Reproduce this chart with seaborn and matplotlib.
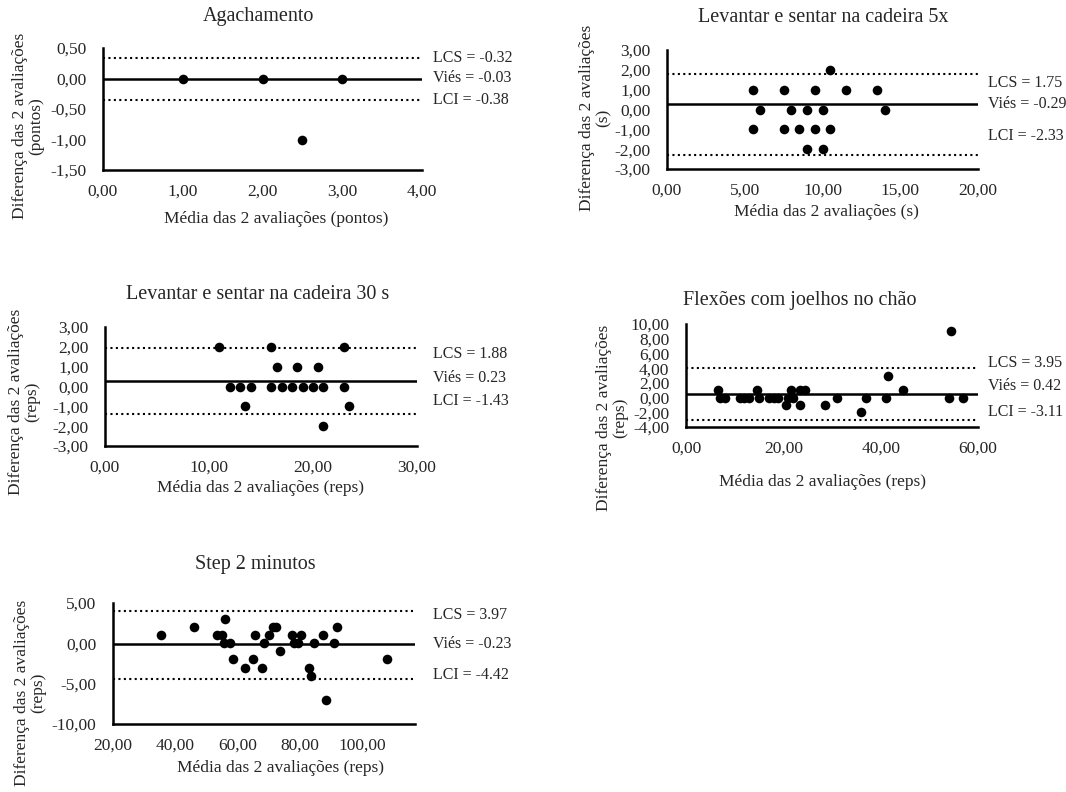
import matplotlib
matplotlib.use("Agg")
import matplotlib.pyplot as plt
from matplotlib.ticker import FuncFormatter, MultipleLocator
import seaborn as sns

sns.set_style("white")
plt.rcParams["font.family"] = ["Liberation Serif", "DejaVu Serif"]
plt.rcParams["text.color"] = "#262626"
plt.rcParams["xtick.color"] = "#262626"
plt.rcParams["ytick.color"] = "#262626"

# --- data ---
agach_x = [1.0, 2.0, 3.0, 2.5]
agach_y = [0, 0, 0, -1]
agach_lines = [0.33, 0.0, -0.36]          # LCS, bias, LCI (as drawn)
agach_text = ["LCS = -0.32", "Viés = -0.03", "LCI = -0.38"]

sent5_x = [10.5, 5.5, 7.5, 9.5, 11.5, 13.5, 6.0, 8.0, 9.0, 10.0, 14.0,
           5.5, 7.5, 8.5, 9.5, 10.5, 9.0, 10.0]
sent5_y = [2, 1, 1, 1, 1, 1, 0, 0, 0, 0, 0, -1, -1, -1, -1, -1, -2, -2]
sent5_lines = [1.8, 0.29, -2.28]
sent5_text = ["LCS = 1.75", "Viés = -0.29", "LCI = -2.33"]

sent30_x = [11, 16, 23, 16.5, 18.5, 20.5, 12, 13, 14, 16, 17, 18, 19, 20,
            21, 23, 13.5, 23.5, 21]
sent30_y = [2, 2, 2, 1, 1, 1, 0, 0, 0, 0, 0, 0, 0, 0, 0, 0, -1, -1, -2]
sent30_lines = [1.94, 0.29, -1.41]
sent30_text = ["LCS = 1.88", "Viés = 0.23", "LCI = -1.43"]

flex_x = [6.5, 14.5, 21.5, 23.5, 24.5, 44.5,
          7.0, 8.0, 11.0, 12.0, 13.0, 15.0, 17.0, 18.0, 19.0, 21.0, 22.0,
          31.0, 37.0, 41.0, 54.0, 57.0,
          20.5, 23.5, 28.5, 36.0, 41.5, 54.5]
flex_y = [1] * 6 + [0] * 16 + [-1, -1, -1, -2, 3, 9]
flex_lines = [3.97, 0.49, -3.09]
flex_text = ["LCS = 3.95", "Viés = 0.42", "LCI = -3.11"]

step_x = [35.5, 53.5, 55.0, 65.5, 70.0, 77.5, 80.5, 87.5,
          46.0, 71.5, 72.5, 92.0, 56.0,
          55.5, 57.5, 68.5, 78.0, 79.5, 84.5, 91.0,
          73.5, 58.5, 65.0, 108.0, 62.5, 68.0, 83.0, 83.5, 88.5]
step_y = [1] * 8 + [2] * 4 + [3] + [0] * 7 + [-1, -2, -2, -2, -3, -3, -3, -4, -7]
step_lines = [3.97, -0.1, -4.38]
step_text = ["LCS = 3.97", "Viés = -0.23", "LCI = -4.42"]

titles = ["Agachamento", "Levantar e sentar na cadeira 5x",
          "Levantar e sentar na cadeira 30 s", "Flexões com joelhos no chão",
          "Step 2 minutos"]
units = ["pontos", "s", "reps", "reps", "reps"]

panels = [
    (agach_x, agach_y, agach_lines, agach_text),
    (sent5_x, sent5_y, sent5_lines, sent5_text),
    (sent30_x, sent30_y, sent30_lines, sent30_text),
    (flex_x, flex_y, flex_lines, flex_text),
    (step_x, step_y, step_lines, step_text),
]

# --- layout (pixels in a 1066x792 figure) ---
W, H = 1066, 792
layout = [
    # left, right, top, bottom, xlim, ylim, xstep, ystep, title xy,
    # ylabel xy (axes), xlabel xy (axes), annot x, annot ys
    dict(box=(103, 422, 48, 170), xlim=(0, 4), ylim=(-1.5, 0.5), xs=1, ys=0.5,
         title=(258, 17), yl=(-0.234, 0.36), xl=(0.542, -0.405),
         ax_=1.034, ay=(0.917, 0.752, 0.570)),
    dict(box=(667, 978, 50, 169), xlim=(0, 20), ylim=(-3, 3), xs=5, ys=1,
         title=(823, 17), yl=(-0.23, 0.43), xl=(0.514, -0.36),
         ax_=1.032, ay=(0.723, 0.546, 0.277)),
    dict(box=(105, 417, 327, 446), xlim=(0, 30), ylim=(-3, 3), xs=10, ys=1,
         title=(258, 295), yl=(-0.26, 0.37), xl=(0.497, -0.353),
         ax_=1.05, ay=(0.773, 0.571, 0.378)),
    dict(box=(686, 978, 324, 427), xlim=(0, 60), ylim=(-4, 10), xs=20, ys=2,
         title=(800, 300), yl=(-0.253, 0.087), xl=(0.466, -0.534),
         ax_=1.034, ay=(0.624, 0.398, 0.149)),
    dict(box=(113, 415, 603, 724), xlim=(20, 117), ylim=(-10, 5), xs=20, ys=5,
         title=(255, 565), yl=(-0.275, 0.256), xl=(0.553, -0.364),
         ax_=1.06, ay=(0.90, 0.661, 0.405)),
]

comma = FuncFormatter(lambda v, p: f"{v:.2f}".replace(".", ","))

fig = plt.figure(figsize=(W / 100, H / 100), dpi=100)

for (xs, ys, lines, texts), lay, title, unit in zip(panels, layout, titles, units):
    l, r, t, b = lay["box"]
    ax = fig.add_axes([l / W, 1 - b / H, (r - l) / W, (b - t) / H])

    ax.axhline(lines[0], color="black", lw=1.5, ls=(0, (1, 1.6)), zorder=1)
    ax.axhline(lines[1], color="black", lw=1.8, zorder=1)
    ax.axhline(lines[2], color="black", lw=1.5, ls=(0, (1, 1.6)), zorder=1)

    sns.scatterplot(x=xs, y=ys, color="black", s=48, linewidth=0, ax=ax,
                    zorder=3, clip_on=False)

    ax.set_xlim(*lay["xlim"])
    ax.set_ylim(*lay["ylim"])
    ax.xaxis.set_major_locator(MultipleLocator(lay["xs"]))
    ax.yaxis.set_major_locator(MultipleLocator(lay["ys"]))
    ax.xaxis.set_major_formatter(comma)
    ax.yaxis.set_major_formatter(comma)
    ax.tick_params(axis="both", length=0, labelsize=12.5)
    ax.tick_params(axis="y", pad=12)
    ax.tick_params(axis="x", pad=10)

    sns.despine(ax=ax)
    for side in ["left", "bottom"]:
        ax.spines[side].set_color("black")
        ax.spines[side].set_linewidth(1.8)

    ax.set_ylabel(f"Diferença das 2 avaliações\n({unit})", fontsize=12.5,
                  va="center", linespacing=1.0)
    ax.yaxis.set_label_coords(*lay["yl"])
    ax.set_xlabel(f"Média das 2 avaliações ({unit})", fontsize=12.5, va="center")
    ax.xaxis.set_label_coords(*lay["xl"])

    tx, ty = lay["title"]
    fig.text(tx / W, 1 - ty / H, title, ha="center", va="center", fontsize=14.5)

    for txt, yy in zip(texts, lay["ay"]):
        ax.text(lay["ax_"], yy, txt, transform=ax.transAxes, ha="left",
                va="center", fontsize=11.5)

fig.savefig("out.png", dpi=100)
